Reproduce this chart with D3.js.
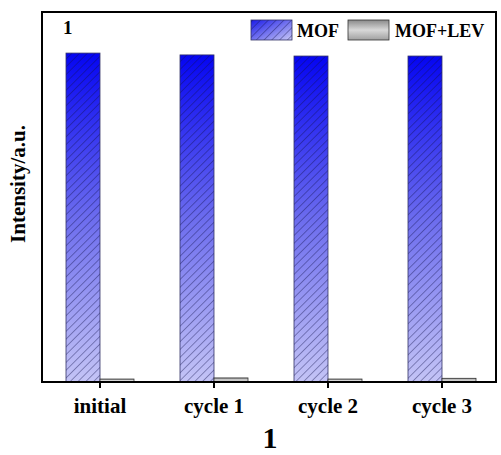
<!DOCTYPE html>
<html>
<head>
<meta charset="utf-8">
<script src="https://cdn.jsdelivr.net/npm/d3@7/dist/d3.min.js"></script>
<style>
  body { margin: 0; background: #fff; }
  text { font-family: "Liberation Serif", "DejaVu Serif", serif; font-weight: bold; }
</style>
</head>
<body>
<script>
// values (arbitrary units)
const categories = ["initial", "cycle 1", "cycle 2", "cycle 3"];
const mofValues = [88.9, 88.4, 88.1, 88.1];
const mofLevValues = [0.8, 1.1, 0.8, 1.0];
const seriesNames = ["MOF", "MOF+LEV"];

const w = 501;
const h = 455;
const plotLeft = 42, plotRight = 496, plotTop = 12, plotBottom = 382;

const svg = d3.select("body")
  .append("svg")
  .attr("width", w)
  .attr("height", h);

const defs = svg.append("defs");

const blueGrad = defs.append("linearGradient")
  .attr("id", "blueGrad")
  .attr("x1", 0).attr("y1", 0).attr("x2", 0).attr("y2", 1);
blueGrad.append("stop").attr("offset", "0%").attr("stop-color", "#0505f2");
blueGrad.append("stop").attr("offset", "50%").attr("stop-color", "#6c6cee");
blueGrad.append("stop").attr("offset", "100%").attr("stop-color", "#c4c4f6");

const blueGradLeg = defs.append("linearGradient")
  .attr("id", "blueGradLeg")
  .attr("x1", 0).attr("y1", 0).attr("x2", 1).attr("y2", 1);
blueGradLeg.append("stop").attr("offset", "0%").attr("stop-color", "#1a1ae8");
blueGradLeg.append("stop").attr("offset", "100%").attr("stop-color", "#c8c8f6");

const grayGrad = defs.append("linearGradient")
  .attr("id", "grayGrad")
  .attr("x1", 0).attr("y1", 0).attr("x2", 0).attr("y2", 1);
grayGrad.append("stop").attr("offset", "0%").attr("stop-color", "#8a8a8a");
grayGrad.append("stop").attr("offset", "50%").attr("stop-color", "#d8d8d8");
grayGrad.append("stop").attr("offset", "100%").attr("stop-color", "#a0a0a0");

const hatch = defs.append("pattern")
  .attr("id", "hatch")
  .attr("patternUnits", "userSpaceOnUse")
  .attr("width", 5.5)
  .attr("height", 5.5)
  .attr("patternTransform", "rotate(45)");
hatch.append("line")
  .attr("x1", 0).attr("y1", 0).attr("x2", 0).attr("y2", 5.5)
  .attr("stroke", "#10104a")
  .attr("stroke-opacity", 0.75)
  .attr("stroke-width", 1);

const xScale = d3.scaleBand()
  .domain(categories)
  .range([43, 499])
  .paddingInner(0.4)
  .paddingOuter(0.2);

const yScale = d3.scaleLinear()
  .domain([0, 100])
  .range([plotBottom, plotTop]);

const bw = 34;
const center = (c) => xScale(c) + xScale.bandwidth() / 2;

// MOF bars
const mofG = svg.append("g");
mofG.selectAll("rect.fill")
  .data(mofValues)
  .enter()
  .append("rect")
  .attr("x", (d, i) => center(categories[i]) - bw)
  .attr("y", (d) => yScale(d))
  .attr("width", bw)
  .attr("height", (d) => yScale(0) - yScale(d))
  .attr("fill", "url(#blueGrad)");
mofG.selectAll("rect.hatch")
  .data(mofValues)
  .enter()
  .append("rect")
  .attr("x", (d, i) => center(categories[i]) - bw)
  .attr("y", (d) => yScale(d))
  .attr("width", bw)
  .attr("height", (d) => yScale(0) - yScale(d))
  .attr("fill", "url(#hatch)")
  .attr("stroke", "#333366")
  .attr("stroke-width", 0.8);

// MOF+LEV bars
svg.append("g").selectAll("rect")
  .data(mofLevValues)
  .enter()
  .append("rect")
  .attr("x", (d, i) => center(categories[i]))
  .attr("y", (d) => yScale(d))
  .attr("width", bw)
  .attr("height", (d) => yScale(0) - yScale(d))
  .attr("fill", "url(#grayGrad)")
  .attr("stroke", "#333")
  .attr("stroke-width", 0.8);

// x axis
const xAxis = d3.axisBottom(xScale).tickSize(6).tickSizeOuter(0);
const gx = svg.append("g")
  .attr("transform", "translate(0," + plotBottom + ")")
  .call(xAxis);
gx.select(".domain").remove();
gx.selectAll(".tick line").attr("stroke", "#000").attr("stroke-width", 2);
gx.selectAll(".tick text")
  .attr("y", 31)
  .attr("dy", null)
  .attr("fill", "#000")
  .style("font-size", "21px")
  .style("font-family", "'Liberation Serif', serif")
  .style("font-weight", "bold");

// frame
svg.append("rect")
  .attr("x", plotLeft)
  .attr("y", plotTop)
  .attr("width", plotRight - plotLeft)
  .attr("height", plotBottom - plotTop)
  .attr("fill", "none")
  .attr("stroke", "#000")
  .attr("stroke-width", 2);

// panel label
svg.append("text")
  .attr("x", 63)
  .attr("y", 34)
  .style("font-size", "19px")
  .text("1");

// legend
svg.append("rect")
  .attr("x", 251).attr("y", 20).attr("width", 41).attr("height", 20)
  .attr("fill", "url(#blueGradLeg)");
svg.append("rect")
  .attr("x", 251).attr("y", 20).attr("width", 41).attr("height", 20)
  .attr("fill", "url(#hatch)")
  .attr("stroke", "#333366").attr("stroke-width", 0.8);
svg.append("text")
  .attr("x", 297).attr("y", 37)
  .style("font-size", "18px")
  .text(seriesNames[0]);
svg.append("rect")
  .attr("x", 348).attr("y", 20).attr("width", 41).attr("height", 20)
  .attr("fill", "url(#grayGrad)")
  .attr("stroke", "#333").attr("stroke-width", 0.8);
svg.append("text")
  .attr("x", 395).attr("y", 37)
  .style("font-size", "18px")
  .text(seriesNames[1]);

// y label
svg.append("text")
  .attr("transform", "translate(25,184) rotate(-90)")
  .attr("text-anchor", "middle")
  .style("font-size", "21px")
  .text("Intensity/a.u.");

// bottom title
svg.append("text")
  .attr("x", 270)
  .attr("y", 448)
  .attr("text-anchor", "middle")
  .style("font-size", "30px")
  .text("1");
</script>
</body>
</html>
